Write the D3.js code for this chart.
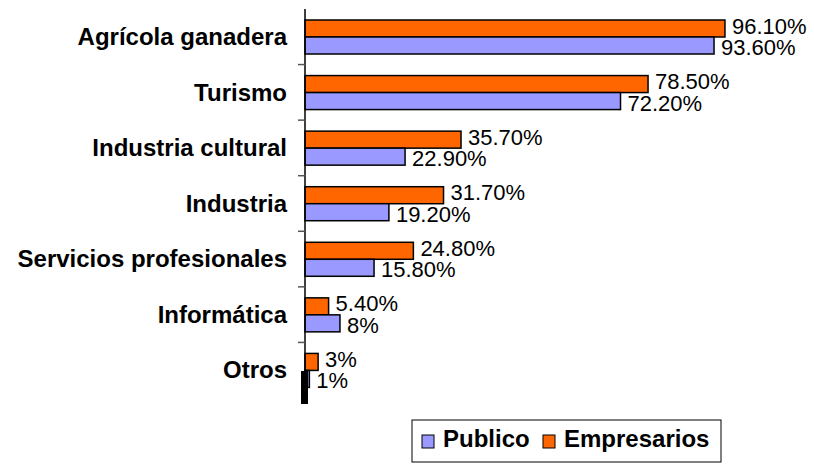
<!DOCTYPE html>
<html>
<head>
<meta charset="utf-8">
<script src="https://cdn.jsdelivr.net/npm/d3@7"></script>
<style>
  body { margin: 0; background: #fff; }
  svg { font-family: "Liberation Sans", Arial, sans-serif; }
</style>
</head>
<body>
<div id="chart"></div>
<script>
// chart values
var categories = ['Agrícola ganadera', 'Turismo', 'Industria cultural', 'Industria',
  'Servicios profesionales', 'Informática', 'Otros']
var empresarios = [96.1, 78.5, 35.7, 31.7, 24.8, 5.4, 3]
var publico = [93.6, 72.2, 22.9, 19.2, 15.8, 8, 1]
var empresariosLabels = ['96.10%', '78.50%', '35.70%', '31.70%', '24.80%', '5.40%', '3%']
var publicoLabels = ['93.60%', '72.20%', '22.90%', '19.20%', '15.80%', '8%', '1%']
var seriesNames = ['Publico', 'Empresarios']
var colors = { Publico: '#9999ff', Empresarios: '#ff6600' }

var width = 814, height = 464

const svg = d3.select('#chart')
  .append('svg')
  .attr('width', width)
  .attr('height', height)

// scales
var x = d3.scaleLinear().domain([0, 100]).range([305, 742])
var y = d3.scaleBand().domain(categories).range([9, 398])
var inner = d3.scaleBand().domain(['Empresarios', 'Publico'])
  .range([11, 45])

var rows = categories.map(function (c, i) {
  return { cat: c, Empresarios: empresarios[i], Publico: publico[i],
    eLab: empresariosLabels[i], pLab: publicoLabels[i] }
})

var g = svg.append('g')

// bars + value labels
rows.forEach(function (d) {
  ['Empresarios', 'Publico'].forEach(function (s) {
    var yy = y(d.cat) + inner(s)
    var w = x(d[s]) - x(0)
    g.append('rect')
      .attr('x', x(0))
      .attr('y', yy)
      .attr('width', w)
      .attr('height', inner.bandwidth())
      .attr('fill', colors[s])
      .attr('stroke', w > 4 ? '#000' : 'none')
      .attr('stroke-width', 1.5)
    g.append('text')
      .attr('x', x(d[s]) + 7)
      .attr('y', yy + (s == 'Empresarios' ? 13.5 : 18))
      .attr('font-size', '22px')
      .attr('fill', '#000')
      .text(s == 'Empresarios' ? d.eLab : d.pLab)
  })
})

// black marker at bottom of axis
svg.append('rect')
  .attr('x', 301).attr('y', 371).attr('width', 7).attr('height', 33)
  .attr('fill', '#000')

// axis line and ticks
svg.append('line')
  .attr('x1', x(0)).attr('x2', x(0))
  .attr('y1', 9).attr('y2', 398)
  .attr('stroke', '#000').attr('stroke-width', 1.5)

categories.slice(1).forEach(function (c) {
  svg.append('line')
    .attr('x1', x(0) - 7).attr('x2', x(0))
    .attr('y1', y(c)).attr('y2', y(c))
    .attr('stroke', '#555').attr('stroke-width', 1.5)
})

// category labels
svg.selectAll('.cat')
  .data(categories)
  .enter()
  .append('text')
  .attr('class', 'cat')
  .attr('x', 287)
  .attr('y', function (d) { return y(d) + 36 })
  .attr('text-anchor', 'end')
  .attr('font-size', '24px')
  .attr('font-weight', 'bold')
  .text(function (d) { return d })

// legend
var legend = svg.append('g')
legend.append('rect')
  .attr('x', 412).attr('y', 420).attr('width', 309).attr('height', 42)
  .attr('fill', '#fff').attr('stroke', '#000').attr('stroke-width', 1)

var legX = [422, 543]
seriesNames.forEach(function (s, i) {
  legend.append('rect')
    .attr('x', legX[i]).attr('y', 435).attr('width', 12).attr('height', 13)
    .attr('fill', colors[s]).attr('stroke', '#000').attr('stroke-width', 1)
  legend.append('text')
    .attr('x', legX[i] + 21).attr('y', 447)
    .attr('font-size', '24px')
    .attr('font-weight', 'bold')
    .text(s)
})
</script>
</body>
</html>
